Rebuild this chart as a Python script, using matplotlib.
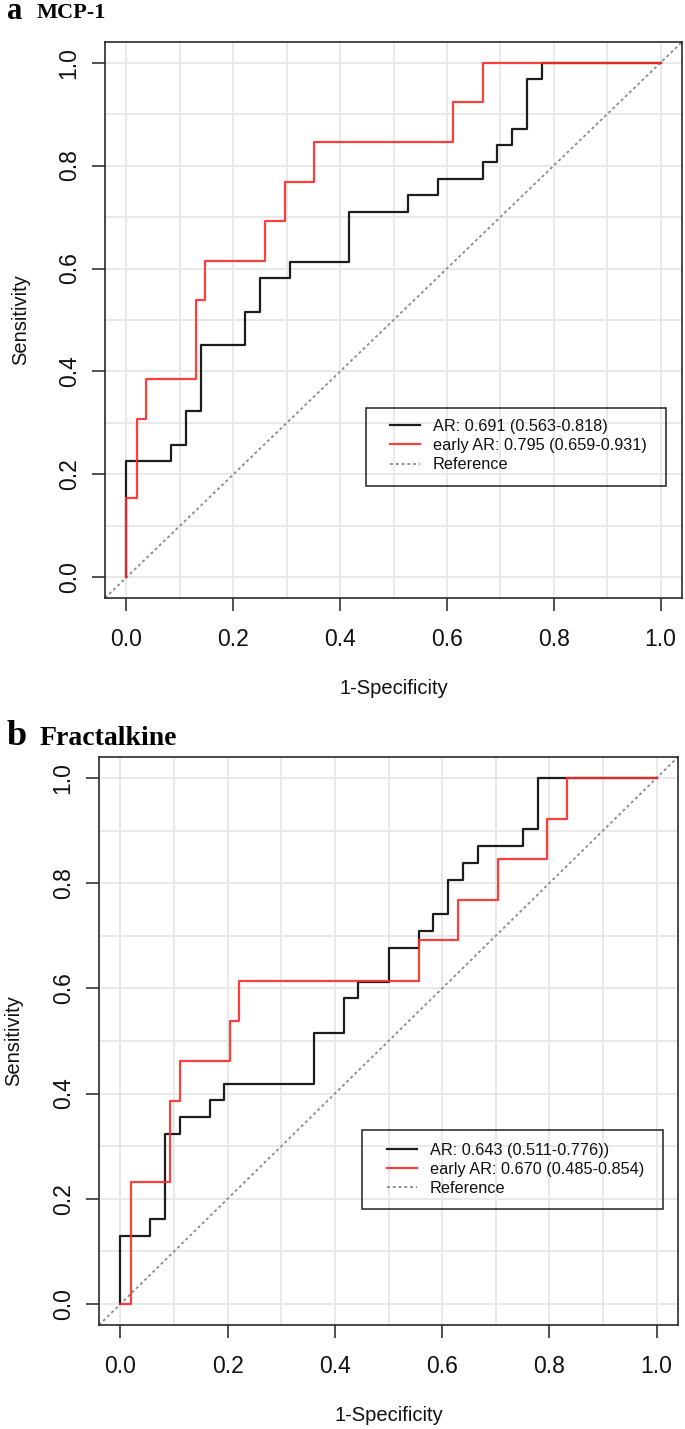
import matplotlib
matplotlib.use("Agg")
import matplotlib.pyplot as plt
from matplotlib.lines import Line2D
from matplotlib.patches import Rectangle

# ---------------- data ----------------
# Panel a: MCP-1  (ROC points, 1-specificity vs sensitivity)
a_ar_fpr = [0, 0, 0.083, 0.111, 0.139, 0.222, 0.250, 0.306, 0.417, 0.528, 0.583, 0.667, 0.694, 0.722, 0.750, 0.778, 1.0]
a_ar_tpr = [0, 0.226, 0.258, 0.323, 0.452, 0.516, 0.581, 0.613, 0.710, 0.742, 0.774, 0.806, 0.839, 0.871, 0.968, 1.0, 1.0]
a_early_fpr = [0, 0, 0.019, 0.037, 0.130, 0.148, 0.259, 0.296, 0.352, 0.611, 0.667, 1.0]
a_early_tpr = [0, 0.154, 0.308, 0.385, 0.538, 0.615, 0.692, 0.769, 0.846, 0.923, 1.0, 1.0]
a_labels = ["AR: 0.691 (0.563-0.818)", "early AR: 0.795 (0.659-0.931)", "Reference"]

# Panel b: Fractalkine
b_ar_fpr = [0, 0, 0.056, 0.083, 0.111, 0.167, 0.194, 0.361, 0.417, 0.444, 0.500, 0.556, 0.583, 0.611, 0.639, 0.667, 0.750, 0.778, 1.0]
b_ar_tpr = [0, 0.129, 0.161, 0.323, 0.355, 0.387, 0.419, 0.516, 0.581, 0.613, 0.677, 0.710, 0.742, 0.806, 0.839, 0.871, 0.903, 1.0, 1.0]
b_early_fpr = [0, 0.019, 0.093, 0.111, 0.204, 0.222, 0.556, 0.630, 0.704, 0.796, 0.833, 1.0]
b_early_tpr = [0, 0.231, 0.385, 0.462, 0.538, 0.615, 0.692, 0.769, 0.846, 0.923, 1.0, 1.0]
b_labels = ["AR: 0.643 (0.511-0.776))", "early AR: 0.670 (0.485-0.854)", "Reference"]

ticks = [0.0, 0.2, 0.4, 0.6, 0.8, 1.0]
tick_labels = ["0.0", "0.2", "0.4", "0.6", "0.8", "1.0"]
grid_pos = [0.0, 0.1, 0.2, 0.3, 0.4, 0.5, 0.6, 0.7, 0.8, 0.9, 1.0]
panel_letters = ["a", "b"]
panel_titles = ["MCP-1", "Fractalkine"]

# ---------------- style ----------------
plt.rcParams["font.family"] = ["Liberation Sans", "DejaVu Sans"]
TICKFONT = ["Liberation Sans Narrow", "Liberation Sans", "DejaVu Sans"]
BLACK = "#1c1c1c"
RED = "#ff2a2a"
GRID = "#e9e9e9"
REF = "#8a8a8a"

W, H = 685, 1429
fig = plt.figure(figsize=(W / 100, H / 100), dpi=100)


def px_axes(left, right, top, bottom):
    return fig.add_axes([left / W, 1 - bottom / H, (right - left) / W, (bottom - top) / H])


def draw_panel(ax, ar_fpr, ar_tpr, e_fpr, e_tpr, labels, leg_box, leg_anchor, ylab_x, xlab_y):
    ax.set_xlim(-0.04, 1.04)
    ax.set_ylim(-0.04, 1.04)
    for g in grid_pos:
        ax.axvline(g, color=GRID, lw=1.4, zorder=0)
        ax.axhline(g, color=GRID, lw=1.4, zorder=0)
    ax.axline((0, 0), (1, 1), color=REF, lw=1.3, ls=(0, (1.6, 1.6)), zorder=1)
    l1, = ax.step(ar_fpr, ar_tpr, where="post", color=BLACK, lw=1.6, zorder=3)
    l2, = ax.step(e_fpr, e_tpr, where="post", color=RED, lw=1.6, zorder=4, alpha=0.9)
    l3 = Line2D([], [], color=REF, lw=1.3, ls=(0, (1.6, 1.6)))

    ax.set_xticks(ticks)
    ax.set_xticklabels(tick_labels, family=TICKFONT, fontsize=16.5)
    ax.set_yticks(ticks)
    ax.set_yticklabels(tick_labels, rotation=90, va="center", family=TICKFONT, fontsize=16.5)
    ax.tick_params(axis="both", direction="out", length=9.5, width=1.1, colors="#222222",
                   labelcolor="#111111")
    ax.tick_params(axis="x", pad=12)
    ax.tick_params(axis="y", pad=8)
    for s in ax.spines.values():
        s.set_linewidth(1.2)
        s.set_color("#2a2a2a")

    ax.set_xlabel("1-Specificity", fontsize=14.5, color="#111111", va="center")
    ax.set_ylabel("Sensitivity", fontsize=14.5, color="#111111", va="center")
    ax.xaxis.set_label_coords(0.5, xlab_y)
    ax.yaxis.set_label_coords(ylab_x, 0.5)

    leg = ax.legend([l1, l2, l3], labels, loc="center left", bbox_to_anchor=leg_anchor,
                    frameon=False, borderpad=0, borderaxespad=0, handlelength=1.84,
                    handletextpad=0.8, labelspacing=0.26,
                    prop={"family": "Liberation Sans", "size": 11.7})
    for t in leg.get_texts():
        t.set_color("#111111")
    x0, y0, x1, y1 = leg_box
    ax.add_patch(Rectangle((x0, y0), x1 - x0, y1 - y0, transform=ax.transAxes, fill=False,
                           lw=1.1, edgecolor="#222222", zorder=5, clip_on=False))


# Panel a
axa = px_axes(105, 682, 42, 598)
draw_panel(axa, a_ar_fpr, a_ar_tpr, a_early_fpr, a_early_tpr, a_labels,
           leg_box=(0.452, 0.201, 0.972, 0.341), leg_anchor=(0.494, 0.274),
           ylab_x=-0.146, xlab_y=-0.163)

# Panel b
axb = px_axes(99, 678, 757, 1325)
draw_panel(axb, b_ar_fpr, b_ar_tpr, b_early_fpr, b_early_tpr, b_labels,
           leg_box=(0.4537, 0.205, 0.9736, 0.343), leg_anchor=(0.497, 0.274),
           ylab_x=-0.147, xlab_y=-0.159)

# Panel titles
serif = ["Liberation Serif", "DejaVu Serif"]
fig.text(7 / W, 1 - 19 / H, panel_letters[0], family=serif, weight="bold", fontsize=22, va="baseline")
fig.text(37 / W, 1 - 18 / H, panel_titles[0], family=serif, weight="bold", fontsize=16, va="baseline")
fig.text(7 / W, 1 - 745 / H, panel_letters[1], family=serif, weight="bold", fontsize=26, va="baseline")
fig.text(40 / W, 1 - 745 / H, panel_titles[1], family=serif, weight="bold", fontsize=20, va="baseline")

fig.savefig("out.png", dpi=100)
